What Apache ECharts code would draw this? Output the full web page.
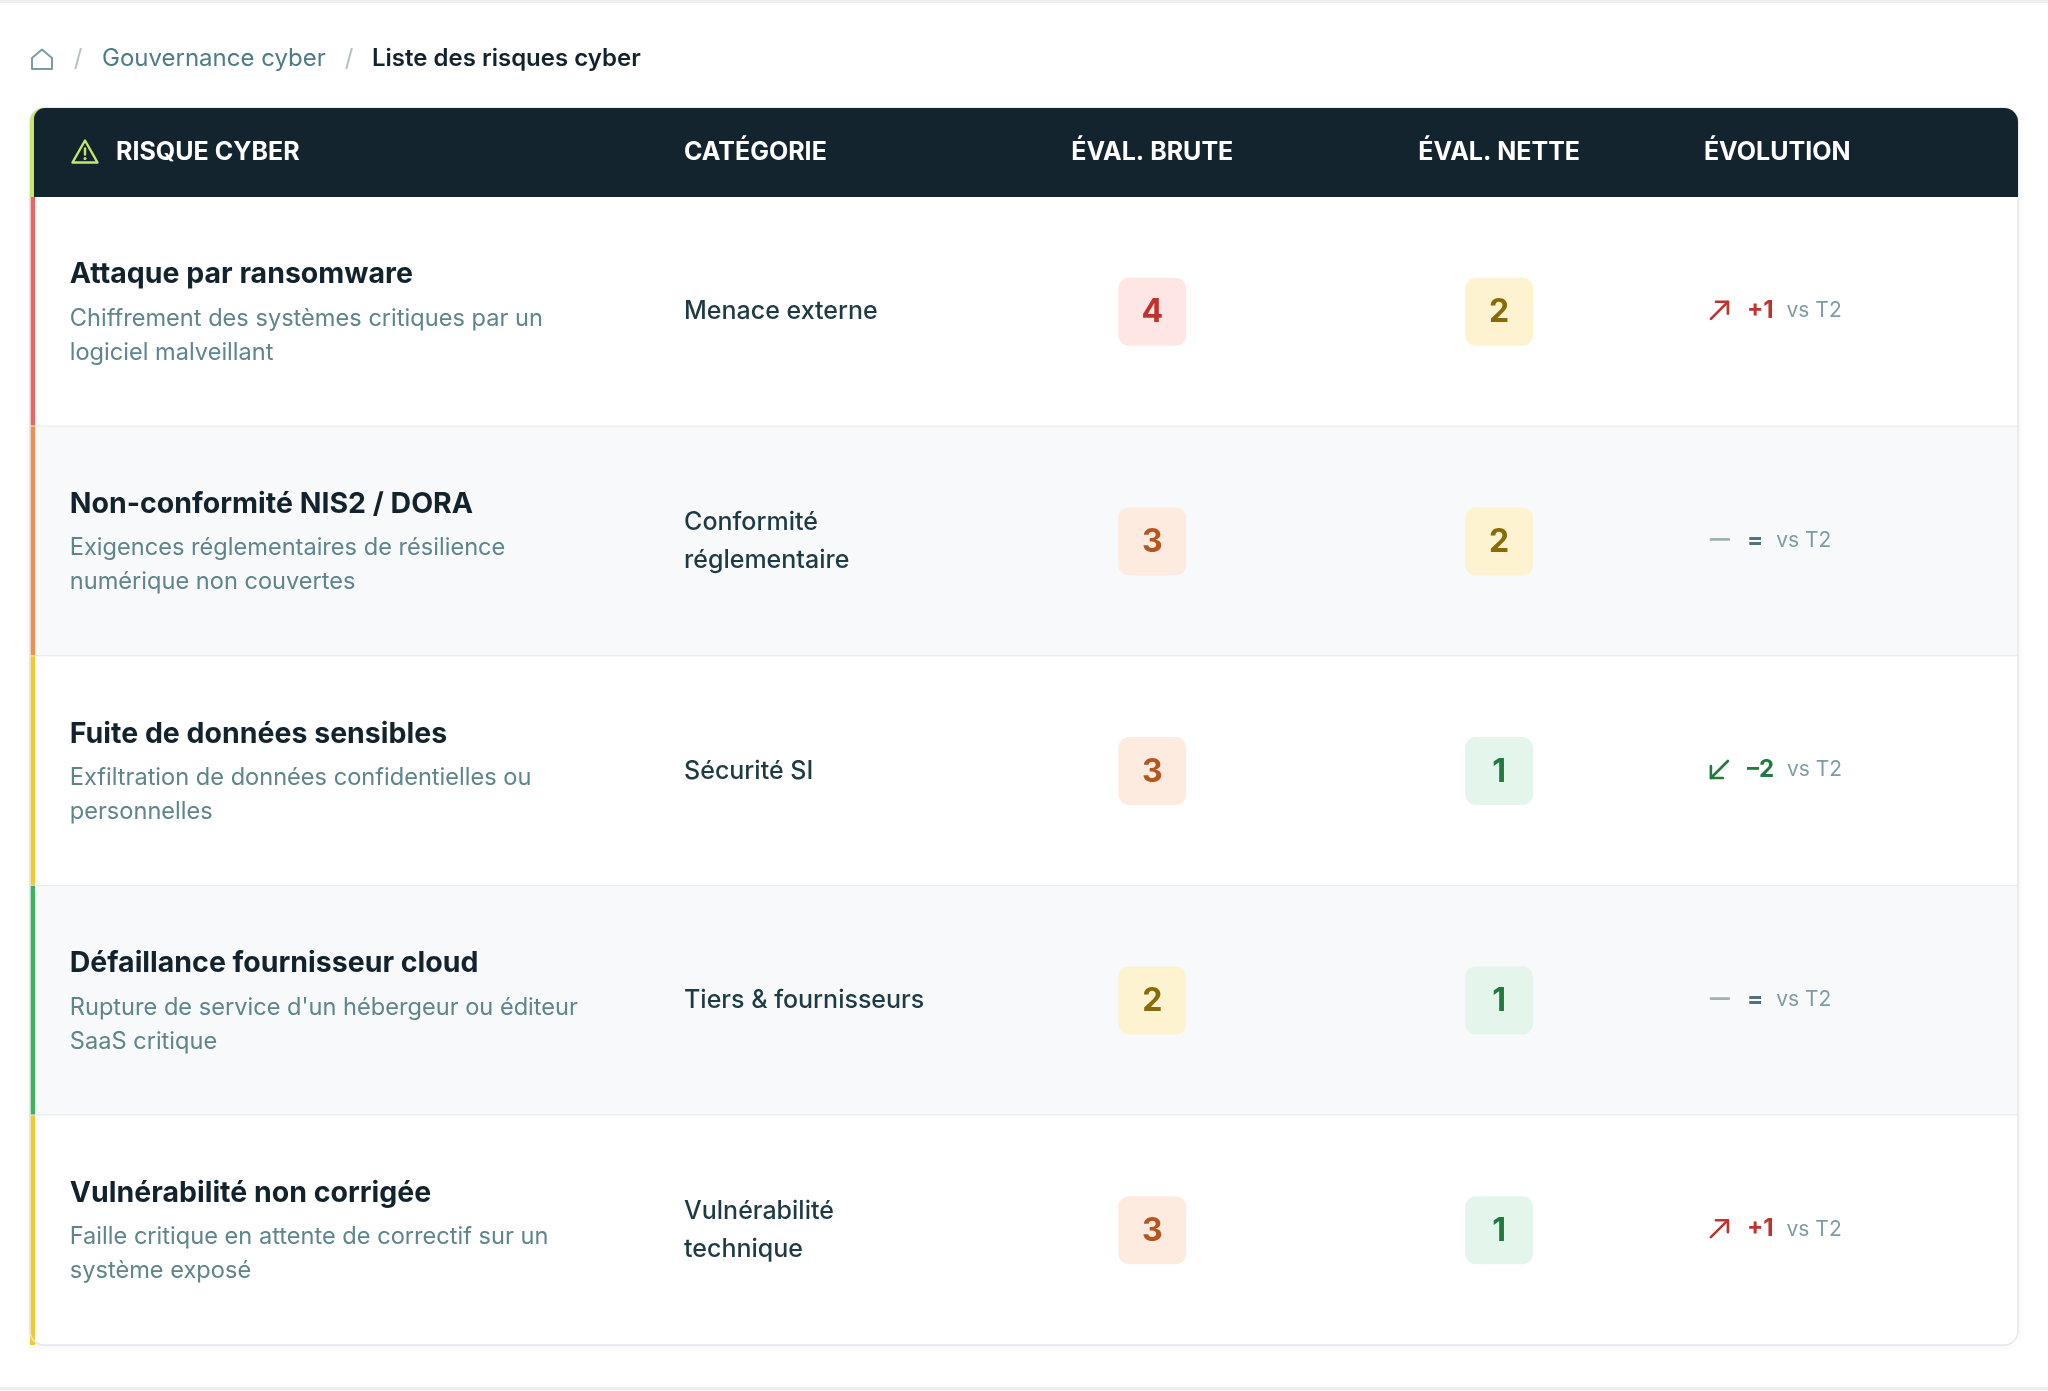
<!DOCTYPE html>
<html lang="fr">
<head>
<meta charset="utf-8">
<title>Liste des risques cyber</title>
<script src="https://cdn.jsdelivr.net/npm/echarts@6/dist/echarts.min.js"></script>
<style>
  html, body { margin: 0; padding: 0; background: #ffffff; }
  #chart { width: 2048px; height: 1391px; }
</style>
</head>
<body>
<div id="chart"></div>
<script>
// données du tableau
const breadcrumb = ['Gouvernance cyber', 'Liste des risques cyber'];
const columns = ['RISQUE CYBER', 'CATÉGORIE', 'ÉVAL. BRUTE', 'ÉVAL. NETTE', 'ÉVOLUTION'];
const risks = [
  'Attaque par ransomware',
  'Non-conformité NIS2 / DORA',
  'Fuite de données sensibles',
  'Défaillance fournisseur cloud',
  'Vulnérabilité non corrigée'
];
const descriptions = [
  'Chiffrement des systèmes critiques par un\nlogiciel malveillant',
  'Exigences réglementaires de résilience\nnumérique non couvertes',
  'Exfiltration de données confidentielles ou\npersonnelles',
  "Rupture de service d'un hébergeur ou éditeur\nSaaS critique",
  'Faille critique en attente de correctif sur un\nsystème exposé'
];
const categories = [
  'Menace externe',
  'Conformité\nréglementaire',
  'Sécurité SI',
  'Tiers & fournisseurs',
  'Vulnérabilité\ntechnique'
];
const riskLevel = ['critique', 'élevé', 'modéré', 'faible', 'modéré'];
const evalBrute = [4, 3, 3, 2, 3];
const evalNette = [2, 2, 1, 1, 1];
const evolution = [1, 0, -2, 0, 1];
const comparedTo = 'vs T2';

// styles
const FONT = 'Inter, "Noto Sans", sans-serif';
const levelColors = { critique: '#ef6461', 'élevé': '#f0904c', 'modéré': '#f4c92f', faible: '#3db45c' };
const scoreStyle = {
  4: { bg: '#fde6e4', fg: '#c0322c' },
  3: { bg: '#feebe0', fg: '#b5561f' },
  2: { bg: '#fdf3d1', fg: '#8a6a06' },
  1: { bg: '#e4f6eb', fg: '#217a3e' }
};
// ancres des colonnes, en ‰ de la largeur du tableau
const COL = { title: 20, category: 329, brute: 564.5, nette: 739, evolution: 842 };

const chart = echarts.init(document.getElementById('chart'));

function evolutionIcon(x, y, delta) {
  const s = { stroke: delta > 0 ? '#c0322c' : delta < 0 ? '#217a3e' : '#9db1b6', lineWidth: 2.6, lineCap: 'round', lineJoin: 'round', fill: null };
  if (delta > 0) {
    return [
      { type: 'line', shape: { x1: x + 2, y1: y + 9, x2: x + 19, y2: y - 8 }, style: s },
      { type: 'polyline', shape: { points: [[x + 7, y - 8], [x + 19, y - 8], [x + 19, y + 4]] }, style: s }
    ];
  }
  if (delta < 0) {
    return [
      { type: 'line', shape: { x1: x + 19, y1: y - 8, x2: x + 2, y2: y + 9 }, style: s },
      { type: 'polyline', shape: { points: [[x + 2, y - 3], [x + 2, y + 9], [x + 14, y + 9]] }, style: s }
    ];
  }
  return [{ type: 'line', shape: { x1: x + 2, y1: y, x2: x + 20, y2: y }, style: s }];
}

function badge(cx, cy, score) {
  const st = scoreStyle[score];
  return [
    { type: 'rect', shape: { x: cx - 34, y: cy - 34, width: 68, height: 68, r: 11 }, style: { fill: st.bg } },
    { type: 'text', style: { text: String(score), x: cx, y: cy + 1, align: 'center', verticalAlign: 'middle', font: '700 32px ' + FONT, fill: st.fg } }
  ];
}

function renderRow(params, api) {
  const i = api.value(1);
  const [xL, yc] = api.coord([0, i]);
  const xR = api.coord([1000, i])[0];
  const h = api.size([0, 1])[1];
  const px = (v) => api.coord([v, i])[0];
  const top = yc - h / 2;
  const delta = evolution[i];
  const children = [
    { type: 'rect', shape: { x: xL, y: top, width: xR - xL, height: h }, style: { fill: i % 2 ? '#f7f9fa' : '#ffffff' } },
    { type: 'rect', shape: { x: xL, y: top, width: 5, height: h }, style: { fill: levelColors[riskLevel[i]] } },
    { type: 'text', style: { text: risks[i], x: px(COL.title), y: yc - 37, verticalAlign: 'middle', font: '700 28.5px ' + FONT, fill: '#13232d' } },
    { type: 'text', style: { text: descriptions[i], x: px(COL.title), y: yc + 24, verticalAlign: 'middle', lineHeight: 34, font: '400 23.6px ' + FONT, fill: '#5d858b' } },
    { type: 'text', style: { text: categories[i], x: px(COL.category), y: yc, verticalAlign: 'middle', lineHeight: 38, font: '500 25px ' + FONT, fill: '#1e3a44' } }
  ]
    .concat(badge(px(COL.brute), yc, evalBrute[i]))
    .concat(badge(px(COL.nette), yc, evalNette[i]))
    .concat(evolutionIcon(px(COL.evolution) + 5, yc - 2, delta))
    .concat([{
      type: 'text',
      style: {
        text: '{v|' + (delta > 0 ? '+' + delta : delta < 0 ? '–' + Math.abs(delta) : '=') + '}{s|' + comparedTo + '}',
        x: px(COL.evolution) + 43, y: yc - 1, verticalAlign: 'middle',
        rich: {
          v: { font: '700 24px ' + FONT, fill: delta > 0 ? '#c0322c' : delta < 0 ? '#217a3e' : '#4f7480' },
          s: { font: '400 21px ' + FONT, fill: '#7d9ca2', padding: [0, 0, 0, 13] }
        }
      }
    }]);
  if (i < risks.length - 1) {
    children.push({ type: 'line', shape: { x1: xL, y1: top + h, x2: xR, y2: top + h }, style: { stroke: '#e5e9eb', lineWidth: 2 } });
  }
  return { type: 'group', children };
}

chart.setOption({
  animation: false,
  grid: { left: 30, right: 30, top: 197, bottom: 46 },
  xAxis: { type: 'value', min: 0, max: 1000, show: false },
  yAxis: { type: 'category', data: risks, inverse: true, show: false },
  series: [{
    type: 'custom',
    clip: false,
    renderItem: renderRow,
    data: risks.map((r, i) => [0, i]),
    z: 2
  }]
});

// en-tête, fil d'Ariane et cadre, alignés sur les ancres de colonnes
const colX = (v) => chart.convertToPixel({ gridIndex: 0 }, [v, 0])[0];
const left = colX(0), right = colX(1000);
const headTop = 108, headBottom = 197, headMid = (headTop + headBottom) / 2;
const headFont = '700 25px ' + FONT;
const grey = '#b3c1c5';
const crumbY = 59;

chart.setOption({
  graphic: [
    { type: 'rect', z: 0, shape: { x: 0, y: 0, width: 2048, height: 3 }, style: { fill: '#eceff1' } },
    { type: 'rect', z: 0, shape: { x: 0, y: 1387, width: 2048, height: 3 }, style: { fill: '#eceff1' } },
    { type: 'rect', z: 0, shape: { x: left, y: headTop, width: right - left, height: 1345 - headTop, r: 14 },
      style: { fill: '#ffffff', shadowBlur: 8, shadowColor: 'rgba(20,40,50,0.06)', shadowOffsetY: 2 } },
    { type: 'rect', z: 9, shape: { x: left, y: headTop, width: right - left, height: 1345 - headTop, r: 14 },
      style: { fill: null, stroke: '#e3e8ea', lineWidth: 1.5 } },
    { type: 'rect', z: 10, shape: { x: left, y: headTop, width: right - left, height: headBottom - headTop, r: [14, 14, 0, 0] }, style: { fill: '#c8e66e' } },
    { type: 'rect', z: 10, shape: { x: left + 4, y: headTop, width: right - left - 4, height: headBottom - headTop, r: [11, 14, 0, 0] }, style: { fill: '#13242f' } },
    // icône d'alerte
    { type: 'polygon', z: 11, shape: { points: [[85, headMid - 12], [97.5, headMid + 10], [72.5, headMid + 10]] },
      style: { fill: null, stroke: '#c8e66e', lineWidth: 2.4, lineJoin: 'round' } },
    { type: 'line', z: 11, shape: { x1: 85, y1: headMid - 4, x2: 85, y2: headMid + 2 }, style: { stroke: '#c8e66e', lineWidth: 2.4, lineCap: 'round' } },
    { type: 'circle', z: 11, shape: { cx: 85, cy: headMid + 6, r: 1.5 }, style: { fill: '#c8e66e' } },
    { type: 'text', z: 11, style: { text: columns[0], x: 116, y: headMid, verticalAlign: 'middle', font: headFont, fill: '#ffffff' } },
    { type: 'text', z: 11, style: { text: columns[1], x: colX(COL.category), y: headMid, verticalAlign: 'middle', font: headFont, fill: '#ffffff' } },
    { type: 'text', z: 11, style: { text: columns[2], x: colX(COL.brute), y: headMid, align: 'center', verticalAlign: 'middle', font: headFont, fill: '#ffffff' } },
    { type: 'text', z: 11, style: { text: columns[3], x: colX(COL.nette), y: headMid, align: 'center', verticalAlign: 'middle', font: headFont, fill: '#ffffff' } },
    { type: 'text', z: 11, style: { text: columns[4], x: colX(COL.evolution), y: headMid, verticalAlign: 'middle', font: headFont, fill: '#ffffff' } },
    // fil d'Ariane
    { type: 'polygon', z: 11, shape: { points: [[32, crumbY - 1], [42, crumbY - 9.5], [52, crumbY - 1], [52, crumbY + 10], [32, crumbY + 10]] },
      style: { fill: null, stroke: '#7d9ca2', lineWidth: 2, lineJoin: 'round' } },
    { type: 'text', z: 11, style: { text: '/', x: 78, y: crumbY, align: 'center', verticalAlign: 'middle', font: '400 24px ' + FONT, fill: grey } },
    { type: 'text', z: 11, style: { text: breadcrumb[0], x: 102, y: crumbY, verticalAlign: 'middle', font: '400 24px ' + FONT, fill: '#4d7c86' } },
    { type: 'text', z: 11, style: { text: '/', x: 349, y: crumbY, align: 'center', verticalAlign: 'middle', font: '400 24px ' + FONT, fill: grey } },
    { type: 'text', z: 11, style: { text: breadcrumb[1], x: 372, y: crumbY, verticalAlign: 'middle', font: '600 24px ' + FONT, fill: '#13232d' } }
  ]
});
</script>
</body>
</html>
